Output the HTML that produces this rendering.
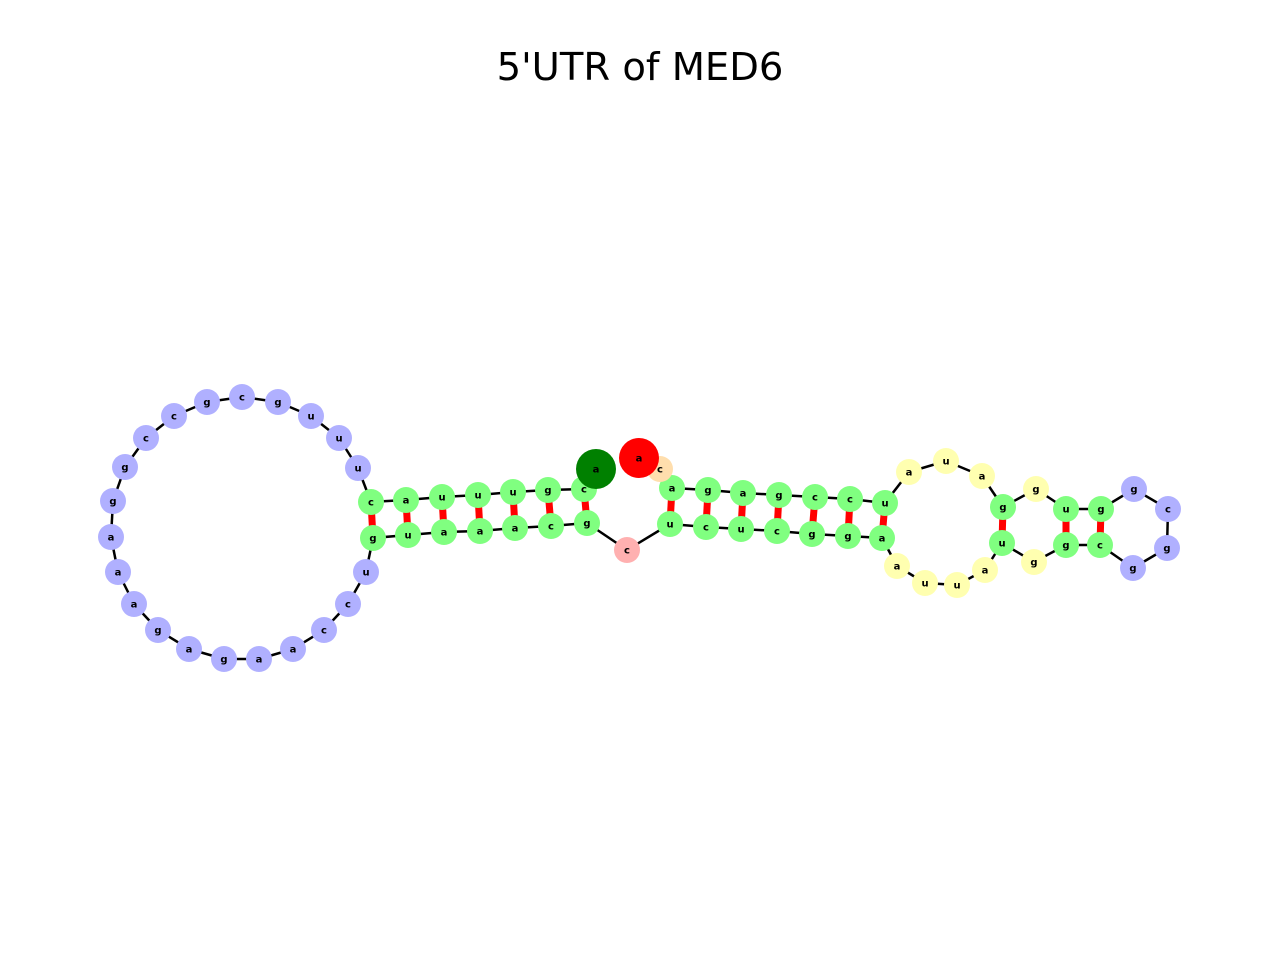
<!DOCTYPE html>
<html><head><meta charset="utf-8"><style>
html,body{margin:0;padding:0;background:#fff;}
svg text{font-family:"DejaVu Sans","Liberation Sans",sans-serif;}
</style></head><body>
<svg id="chart" width="1280" height="960" viewBox="0 0 1280 960" xmlns="http://www.w3.org/2000/svg">
<rect width="1280" height="960" fill="#fff"/>
<text x="640" y="80" text-anchor="middle" font-size="38.5" fill="#000">5'UTR of MED6</text>
<g id="edges"></g>
<g id="pairs"></g>
<g id="nodes"></g>
</svg>
<script>
const bases = ["a","c","g","u","u","u","a","c","u","u","u","g","c","g","c","c","g","g","a","a","a","g","a","g","a","a","c","c","u","g","u","a","a","a","c","g","c","u","c","u","c","g","g","a","a","u","u","a","u","g","g","c","g","g","c","g","g","u","g","g","a","u","a","u","c","c","g","a","g","a","c","a"];
const xs = [596,584,548,513,478,442,406,371,358,339,311,278,242,207,174,146,125,113,111,118,134,158,189,224,259,293,324,348,366,373,408,444,480,515,551,587,627,670,706,741,777,812,848,882,897,925,957,985,1002,1034,1066,1100,1133,1167,1168,1134,1101,1066,1036,1003,982,946,909,885,850,815,779,743,708,672,660,639];
const ys = [469,489,490,492,495,497,500,502,468,438,416,402,397,402,416,438,467,501,537,572,604,630,649,659,659,649,630,604,572,538,535,532,531,528,526,523,550,524,527,529,531,534,536,538,566,583,585,570,543,562,545,545,568,548,509,489,509,509,489,507,476,461,472,503,499,497,495,493,490,488,469,458];
const groups = ["s","g","g","g","g","g","g","g","b","b","b","b","b","b","b","b","b","b","b","b","b","b","b","b","b","b","b","b","b","g","g","g","g","g","g","g","p","g","g","g","g","g","g","g","y","y","y","y","g","y","g","g","b","b","b","b","g","g","y","g","y","y","y","g","g","g","g","g","g","g","o","e"];
const pairI = [7,6,5,4,3,2,1,69,68,67,66,65,64,63,59,57,56];
const pairJ = [29,30,31,32,33,34,35,37,38,39,40,41,42,43,48,50,51];
const colors = {b:"#b0b0ff",g:"#80ff80",y:"#ffffb0",p:"#ffb0b0",o:"#ffdead",s:"#008000",e:"#ff0000"};
const NS="http://www.w3.org/2000/svg";
const eg=document.getElementById('edges'), pg=document.getElementById('pairs'), ng=document.getElementById('nodes');
function sx(i){return xs[i];} function sy(i){return ys[i];}
for(let i=0;i<bases.length-1;i++){
  const l=document.createElementNS(NS,'line');
  l.setAttribute('x1',sx(i));l.setAttribute('y1',sy(i));l.setAttribute('x2',sx(i+1));l.setAttribute('y2',sy(i+1));
  l.setAttribute('stroke','#000');l.setAttribute('stroke-width','2.5');
  
  
  eg.appendChild(l);
}
for(let k=0;k<pairI.length;k++){
  const l=document.createElementNS(NS,'line');
  l.setAttribute('x1',sx(pairI[k]));l.setAttribute('y1',sy(pairI[k]));l.setAttribute('x2',sx(pairJ[k]));l.setAttribute('y2',sy(pairJ[k]));
  l.setAttribute('stroke','#ff0000');l.setAttribute('stroke-width','7');
  
  
  pg.appendChild(l);
}
const order=[];
for(let i=0;i<bases.length;i++){ if(groups[i]!=='s'&&groups[i]!=='e') order.push(i); }
for(let i=0;i<bases.length;i++){ if(groups[i]==='s'||groups[i]==='e') order.push(i); }
order.forEach(i=>{
  const big=groups[i]==='s'||groups[i]==='e';
  const c=document.createElementNS(NS,'circle');
  c.setAttribute('cx',sx(i));c.setAttribute('cy',sy(i));c.setAttribute('r',big?20:13);
  c.setAttribute('fill',colors[groups[i]]);
  
  
  ng.appendChild(c);
  const t=document.createElementNS(NS,'text');
  t.setAttribute('x',sx(i));t.setAttribute('y',sy(i)+3.5);
  t.setAttribute('text-anchor','middle');t.setAttribute('font-size','10');t.setAttribute('font-weight','bold');
  t.textContent=bases[i];
  
  
  ng.appendChild(t);
});
</script>
</body></html>
